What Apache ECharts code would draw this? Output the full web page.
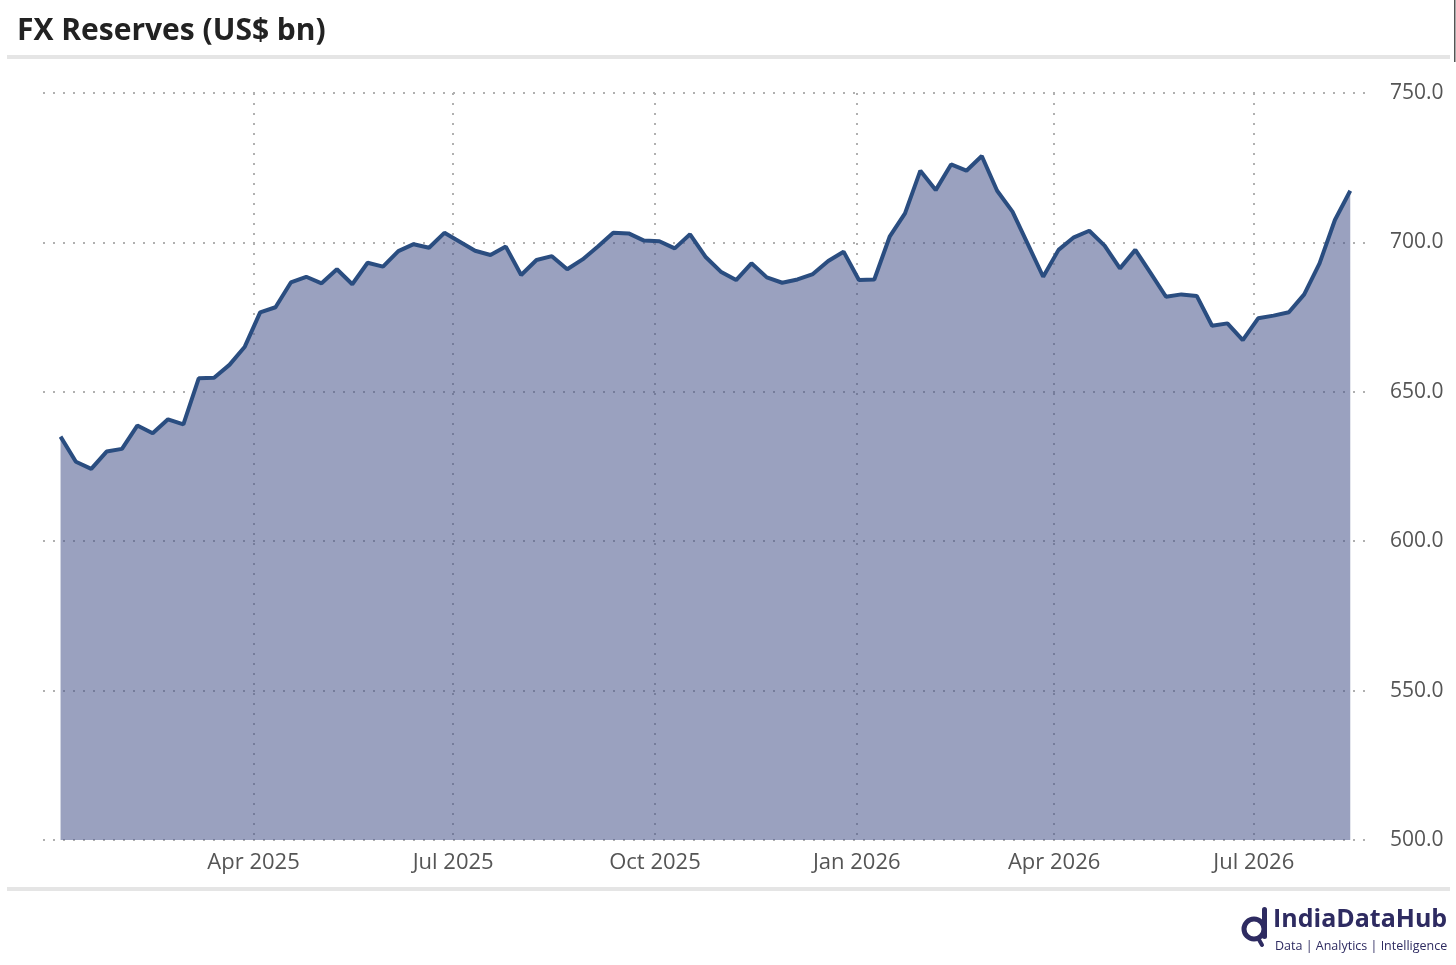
<!DOCTYPE html>
<html>
<head>
<meta charset="utf-8">
<script src="https://cdn.jsdelivr.net/npm/echarts@6/dist/echarts.min.js"></script>
<style>
html,body{margin:0;padding:0;background:#fff;}
#chart{width:1456px;height:965px;}
</style>
</head>
<body>
<div id="chart"></div>
<script>
// Weekly dates (Fridays), first week and count
const startDate = '2025-01-03';
const weeks = 85;
// FX reserves, US$ bn (weekly)
const reserves = [
  635.0, 626.6, 624.2, 630.0, 630.9, 638.7, 636.1, 640.8, 639.1, 654.5,
  654.7, 659.0, 665.1, 676.6, 678.3, 686.6, 688.5, 686.3, 691.0, 686.0,
  693.2, 691.9, 697.1, 699.4, 698.2, 703.2, 700.2, 697.2, 695.8, 698.6,
  689.1, 694.1, 695.4, 691.0, 694.3, 698.6, 703.2, 703.0, 700.6, 700.4,
  698.0, 702.7, 695.2, 690.2, 687.4, 693.0, 688.3, 686.5, 687.6, 689.4,
  693.8, 696.9, 687.4, 687.6, 701.9, 709.7, 724.0, 717.5, 726.1, 724.0,
  728.9, 717.3, 710.3, 699.4, 688.5, 697.5, 701.7, 703.9, 698.9, 691.3,
  697.5, 689.7, 681.8, 682.6, 682.1, 672.1, 672.9, 667.3, 674.6, 675.5,
  676.6, 682.6, 693.0, 707.5, 717.3
];
// Quarter tick dates and labels
const tickDates = ['2025-04-01','2025-07-01','2025-10-01','2026-01-01','2026-04-01','2026-07-01'];
const tickLabels = ['Apr 2025','Jul 2025','Oct 2025','Jan 2026','Apr 2026','Jul 2026'];
const yTicks = [500, 550, 600, 650, 700, 750];

const DAY = 86400000;
const parseD = d => { const p = d.split('-'); return Date.UTC(+p[0], +p[1]-1, +p[2]); };
const t0 = parseD(startDate);
const seriesData = reserves.map((v, i) => [t0 + i * 7 * DAY, v]);
const tickTs = tickDates.map(parseD);
const labelMap = {};
tickTs.forEach((t, i) => labelMap[t] = tickLabels[i]);

const FONT = '"Open Sans", "Noto Sans", sans-serif';
const chart = echarts.init(document.getElementById('chart'), null, {renderer: 'canvas'});
const gridDots = {color: '#b0b0b0', width: 2, type: [2, 8]};

chart.setOption({
  animation: false,
  backgroundColor: '#ffffff',
  title: {
    text: 'FX Reserves (US$ bn)',
    left: 12, top: 11,
    textStyle: {fontFamily: FONT, fontSize: 30, fontWeight: 'bold', color: '#222222'}
  },
  grid: {left: 43, right: 86, top: 93, bottom: 125, containLabel: false},
  xAxis: {
    type: 'value',
    min: parseD('2024-12-26'),
    max: parseD('2026-08-23'),
    axisLine: {show: false},
    axisTick: {show: false, customValues: tickTs},
    splitLine: {show: true, lineStyle: gridDots},
    axisLabel: {
      customValues: tickTs,
      formatter: v => labelMap[v] || '',
      fontFamily: FONT, fontSize: 22, color: '#555555', margin: 12,
      hideOverlap: false
    }
  },
  yAxis: {
    type: 'value',
    position: 'right',
    min: 500, max: 750, interval: 50,
    axisLine: {show: false},
    axisTick: {show: false},
    splitLine: {show: true, lineStyle: gridDots},
    axisLabel: {
      formatter: v => v.toFixed(1),
      fontFamily: FONT, fontSize: 21, color: '#555555', margin: 20,
      verticalAlign: 'middle', padding: [4, 0, 0, 0]
    }
  },
  series: [{
    type: 'line',
    data: seriesData,
    showSymbol: false,
    lineStyle: {color: '#2a4d80', width: 4},
    areaStyle: {color: 'rgba(71,84,139,0.55)', opacity: 1, origin: 'start'},
    z: 2
  }],
  graphic: [
    {type: 'rect', shape: {x: 7, y: 55, width: 1443, height: 4}, style: {fill: '#e5e5e5'}, silent: true},
    {type: 'rect', shape: {x: 7, y: 887, width: 1443, height: 4}, style: {fill: '#e5e5e5'}, silent: true},
    {type: 'rect', shape: {x: 1454, y: 0, width: 1.5, height: 62}, style: {fill: '#555555'}, silent: true},
    // logo icon
    {type: 'circle', shape: {cx: 1254, cy: 929, r: 10}, style: {fill: 'none', stroke: '#2e2b61', lineWidth: 5}, silent: true},
    {type: 'rect', shape: {x: 1262, y: 907, width: 5, height: 32, r: 2.5}, style: {fill: '#2e2b61'}, silent: true},
    {type: 'line', shape: {x1: 1258, y1: 938, x2: 1262, y2: 945}, style: {stroke: '#2e2b61', lineWidth: 4, lineCap: 'round'}, silent: true},
    {type: 'text', left: 1273, top: 907, style: {text: 'IndiaDataHub', font: 'bold 25px "Open Sans", "Noto Sans", sans-serif', fill: '#2e2b61'}, silent: true},
    {type: 'text', left: 1275, top: 940, style: {text: 'Data | Analytics | Intelligence', font: '12.5px "Open Sans", "Noto Sans", sans-serif', fill: '#2e2b61'}, silent: true}
  ]
});
</script>
</body>
</html>
